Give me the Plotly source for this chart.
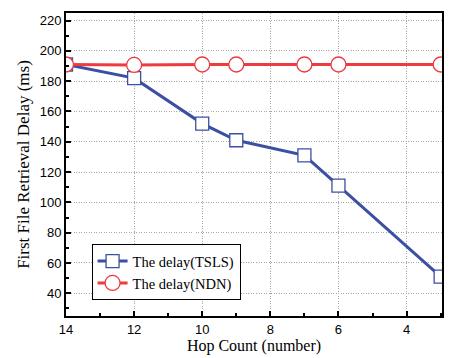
import plotly.graph_objects as go

hops = [14, 12, 10, 9, 7, 6, 3]
tsls_delay = [191, 182, 152, 141, 131, 111, 51]
ndn_delay = [191, 190.7, 191, 191, 191, 191, 191]
series_names = ["The delay(TSLS)", "The delay(NDN)"]

blue = "#3B4FA3"
red = "#EE3B3F"

fig = go.Figure()
fig.add_trace(go.Scatter(
    x=hops, y=tsls_delay, name=series_names[0], mode="lines+markers",
    line=dict(color=blue, width=3),
    marker=dict(symbol="square", size=13, color="white", line=dict(color=blue, width=1.3)),
))
fig.add_trace(go.Scatter(
    x=hops, y=ndn_delay, name=series_names[1], mode="lines+markers",
    line=dict(color=red, width=3),
    marker=dict(symbol="circle", size=15, color="white", line=dict(color=red, width=1.3)),
))

axis_common = dict(
    showline=True, linecolor="black", linewidth=2, mirror=True,
    ticks="inside", ticklen=5, tickwidth=1.5, tickcolor="black",
    showgrid=True, gridcolor="#a8a8a8", griddash="1px,1.5px", gridwidth=1,
    zeroline=False, automargin=False,
    tickfont=dict(family="Liberation Sans, Arial", size=13, color="black"),
)

fig.update_xaxes(
    range=[14, 2.96], tickmode="array", tickvals=[14, 12, 10, 8, 6, 4],
    minor=dict(dtick=1, ticks="inside", ticklen=3, tickcolor="black", showgrid=False, tick0=0),
    title=dict(text="Hop Count (number)", font=dict(family="Liberation Serif, Times New Roman", size=16, color="black"), standoff=2),
    **axis_common,
)
fig.update_yaxes(
    range=[25, 225], tickmode="array", tickvals=[40, 60, 80, 100, 120, 140, 160, 180, 200, 220],
    minor=dict(dtick=10, ticks="inside", ticklen=3, tickcolor="black", showgrid=False, tick0=0),
    title=dict(text="First File Retrieval Delay (ms)", font=dict(family="Liberation Serif, Times New Roman", size=17, color="black"), standoff=6),
    **axis_common,
)

fig.update_layout(
    width=450, height=358,
    margin=dict(l=66, r=8, t=13, b=42),
    paper_bgcolor="white", plot_bgcolor="white",
    showlegend=True,
    legend=dict(
        x=0.068, y=0.237, xanchor="left", yanchor="top",
        bgcolor="white", bordercolor="black", borderwidth=1,
        font=dict(family="Liberation Serif, Times New Roman", size=14.5, color="black"),
        itemwidth=30, tracegroupgap=0,
    ),
)

fig.write_html("out.html", config={"displayModeBar": False},
               post_script="document.body.style.margin='0';document.body.style.overflow='hidden';")
